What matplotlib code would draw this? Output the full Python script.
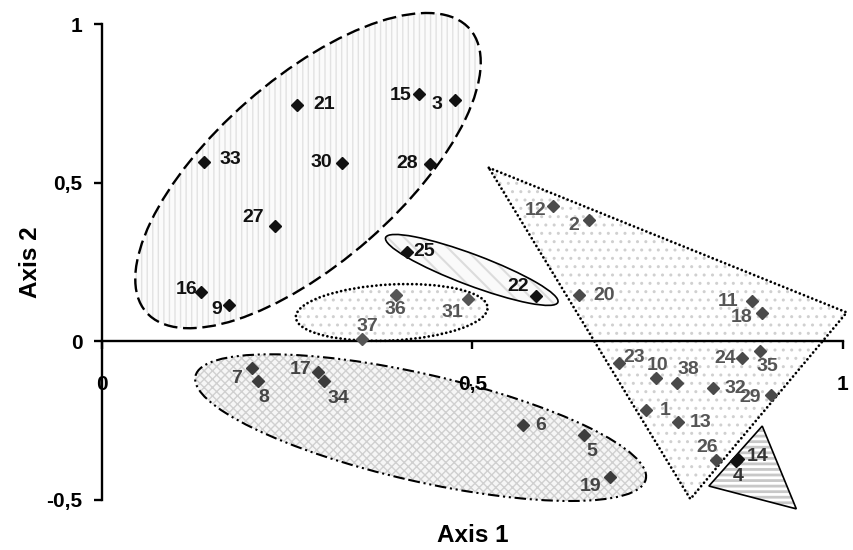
import matplotlib
matplotlib.use('Agg')
import matplotlib.pyplot as plt
from matplotlib.patches import Ellipse, Polygon
from matplotlib.transforms import Affine2D

plt.rcParams['font.family'] = ['Liberation Sans', 'DejaVu Sans']
plt.rcParams['font.weight'] = 'bold'
plt.rcParams['hatch.linewidth'] = 1.0

# sample number, coordinates on axis 1 and axis 2, group
ids = list(range(1, 39))
axis1 = [0.734, 0.657, 0.476, 0.856, 0.650, 0.568, 0.202, 0.211, 0.171, 0.748,
         0.877, 0.609, 0.777, 0.858, 0.428, 0.134, 0.291, 0.891, 0.686, 0.644,
         0.263, 0.586, 0.698, 0.864, 0.412, 0.829, 0.233, 0.443, 0.903, 0.324,
         0.494, 0.825, 0.138, 0.300, 0.888, 0.397, 0.351, 0.776]
axis2 = [-0.217, 0.381, 0.761, -0.377, -0.296, -0.264, -0.085, -0.126, 0.116, -0.116,
         0.126, 0.428, -0.255, -0.371, 0.780, 0.157, -0.097, 0.088, -0.428, 0.145,
         0.745, 0.142, -0.069, -0.053, 0.283, -0.374, 0.362, 0.560, -0.170, 0.563,
         0.132, -0.148, 0.566, -0.126, -0.031, 0.145, 0.006, -0.132]
group = ['E', 'E', 'A', 'F', 'D', 'D', 'D', 'D', 'A', 'E',
         'E', 'E', 'E', 'F', 'A', 'A', 'D', 'E', 'D', 'E',
         'A', 'B', 'E', 'E', 'B', 'E', 'A', 'A', 'E', 'A',
         'C', 'E', 'A', 'D', 'E', 'C', 'C', 'E']

# where each number sits relative to its point (pixels)
label_offsets = {1: (19, 0), 2: (-15, -5), 3: (-18, -5), 4: (2, -16), 5: (8, -16),
                 6: (18, 0), 7: (-15, -10), 8: (5, -16), 9: (-12, -5), 10: (1, 13),
                 11: (-24, 0), 12: (-18, -5), 13: (23, 0), 14: (20, 3), 15: (-19, -2),
                 16: (-15, 2), 17: (-17, 3), 18: (-21, -4), 19: (-20, -9), 20: (25, 0),
                 21: (27, 0), 22: (-18, 10), 23: (15, 6), 24: (-17, 0), 25: (17, 0),
                 26: (-9, 13), 27: (-21, 9), 28: (-23, 0), 29: (-21, -2), 30: (-21, 0),
                 31: (-16, -13), 32: (22, 0), 33: (26, 2), 34: (14, -17), 35: (7, -15),
                 36: (-1, -14), 37: (5, 13), 38: (11, 14)}

marker_colors = {'A': '#111111', 'B': '#111111', 'C': '#555555',
                 'D': '#3c3c3c', 'E': '#4a4a4a', 'F': '#111111'}
text_colors = {'A': '#111111', 'B': '#111111', 'C': '#555555',
               'D': '#444444', 'E': '#555555', 'F': '#333333'}

fig = plt.figure(figsize=(8.54, 5.5), dpi=100)
ax = fig.add_axes([102 / 854, 50 / 550, 741 / 854, 476 / 550])
ax.set_xlim(0, 1)
ax.set_ylim(-0.5, 1)

# ellipses are given in screen-like units so the tilt looks right
ppx = 741 / 1.0
ppy = 476 / 1.5
px = Affine2D().scale(1 / ppx, 1 / ppy) + ax.transData


def ellipse(cx, cy, w, h, ang, **kw):
    return Ellipse((cx * ppx, cy * ppy), w, h, angle=ang, transform=px, clip_on=False, **kw)


def add_region(make, face, hatch_col, hatch, ls, lw, hatch_lw=1.0, capstyle='butt'):
    with plt.rc_context({'hatch.linewidth': hatch_lw}):
        fill = make(facecolor=face, edgecolor=hatch_col, lw=0, hatch=hatch, zorder=1)
    ax.add_patch(fill)
    edge = make(fill=False, edgecolor='black', lw=lw, ls=ls, zorder=2, capstyle=capstyle)
    ax.add_patch(edge)


# group outlines
add_region(lambda **kw: ellipse(0.278, 0.538, 430, 184, 41.2, **kw),
           '#fbfbfb', '#e2e2e2', '|||', (0, (5.8, 2.4)), 1.7)
add_region(lambda **kw: ellipse(0.499, 0.225, 184, 31, -20.6, **kw),
           '#fafafa', '#dcdcdc', '\\\\', '-', 1.2, hatch_lw=1.5)
add_region(lambda **kw: ellipse(0.391, 0.091, 192, 56, 3, **kw),
           'white', '#d0d0d0', '..', (0, (0.01, 1.6)), 2.0, capstyle='round')
add_region(lambda **kw: ellipse(0.430, -0.272, 462, 107, -12.9, **kw),
           '#f6f6f6', '#d0d0d0', 'xxxx', (0, (5.5, 1.8, 1, 1.8, 1, 1.8)), 1.5)
add_region(lambda **kw: Polygon([(0.522, 0.547), (1.005, 0.091), (0.794, -0.497)],
                                closed=True, clip_on=False, **kw),
           'white', '#d0d0d0', '..', (0, (0.01, 1.6)), 2.0, capstyle='round')
add_region(lambda **kw: Polygon([(0.891, -0.267), (0.819, -0.456), (0.937, -0.528)],
                                closed=True, clip_on=False, **kw),
           'white', '#c8c8c8', '---', '-', 1.2, hatch_lw=2.0)

for i, x, y, g in zip(ids, axis1, axis2, group):
    ax.plot(x, y, 'D', ms=6, color=marker_colors[g], mec=marker_colors[g],
            zorder=4, clip_on=False)
    ax.annotate(str(i), (x, y), xytext=label_offsets[i], textcoords='offset pixels',
                ha='center', va='center', fontsize=14, fontweight='bold',
                color=text_colors[g], zorder=5)

# axes crossing at the origin
for side in ['top', 'right']:
    ax.spines[side].set_visible(False)
ax.spines['bottom'].set_position(('data', 0))
ax.spines['left'].set_position(('data', 0))
for side in ['bottom', 'left']:
    ax.spines[side].set_linewidth(1.7)
    ax.spines[side].set_zorder(3)

ax.set_xticks([0, 0.5, 1])
ax.set_xticklabels(['0', '0,5', '1'])
ax.set_yticks([-0.5, 0, 0.5, 1])
ax.set_yticklabels(['-0,5', '0', '0,5', '1'])
ax.tick_params(axis='x', direction='out', length=6, width=1.7, pad=18, labelsize=15)
ax.tick_params(axis='y', direction='out', length=6, width=1.7, pad=8, labelsize=15)
for lab in ax.get_xticklabels() + ax.get_yticklabels():
    lab.set_fontweight('bold')

ax.set_xlabel('Axis 1', fontsize=17.5, fontweight='bold')
ax.set_ylabel('Axis 2', fontsize=17.5, fontweight='bold')
ax.xaxis.set_label_coords(0.5, -0.05)
ax.yaxis.set_label_coords(-0.081, 0.5)
ax.patch.set_visible(False)

fig.savefig('out.png', dpi=100)
